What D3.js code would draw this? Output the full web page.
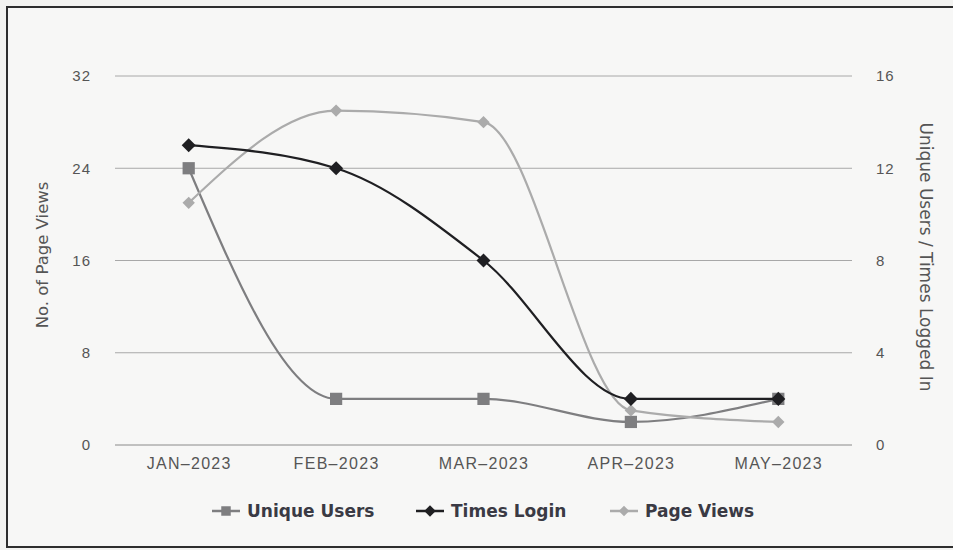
<!DOCTYPE html>
<html>
<head>
<meta charset="utf-8">
<script src="https://cdn.jsdelivr.net/npm/d3@7"></script>
<style>
  body { margin: 0; background: #f2f2f0; }
  svg { display: block; font-family: "DejaVu Sans", sans-serif; }
</style>
</head>
<body>
<svg id="chart" width="953" height="550"></svg>
<script>
// chart data
const months = ["JAN–2023", "FEB–2023", "MAR–2023", "APR–2023", "MAY–2023"];
const uniqueUsers = [12, 2, 2, 1, 2];
const timesLogin = [13, 12, 8, 2, 2];
const pageViews = [21, 29, 28, 3, 2];
const leftTicks = [0, 8, 16, 24, 32];
const rightTicks = [0, 4, 8, 12, 16];

const width = 953, height = 550;
const plot = { left: 115, right: 852, top: 76, bottom: 445 };

let svg = d3.select("#chart");

// scanned-paper frame
svg.append("rect").
attr("x", 0).attr("y", 0).attr("width", width).attr("height", height).
attr("fill", "#f3f3f1");
svg.append("rect").
attr("x", 7).attr("y", 7).attr("width", 960).attr("height", 540).
attr("fill", "#f7f7f6").attr("stroke", "#2e2e2e").attr("stroke-width", 2);

let x = d3.scalePoint().domain(months).range([plot.left, plot.right]).padding(0.5);
let yLeft = d3.scaleLinear().domain([0, 32]).range([plot.bottom, plot.top]);
let yRight = d3.scaleLinear().domain([0, 16]).range([plot.bottom, plot.top]);

// gridlines
svg.append("g").
selectAll("line").
data(leftTicks).
enter().
append("line").
attr("x1", plot.left).
attr("x2", plot.right).
attr("y1", d => yLeft(d)).
attr("y2", d => yLeft(d)).
attr("stroke", d => d === 0 ? "#8a8a8a" : "#a8a8a8").
attr("stroke-width", 1);

// left axis
let leftAxis = d3.axisLeft(yLeft).tickValues(leftTicks).tickSize(0).tickPadding(0);
let gl = svg.append("g").attr("transform", "translate(91,0)").call(leftAxis);
gl.select(".domain").remove();
gl.selectAll("text").attr("fill", "#555").style("font-size", "15px").style("letter-spacing", "1px");

// right axis
let rightAxis = d3.axisRight(yRight).tickValues(rightTicks).tickSize(0).tickPadding(0);
let gr = svg.append("g").attr("transform", "translate(876,0)").call(rightAxis);
gr.select(".domain").remove();
gr.selectAll("text").attr("fill", "#555").style("font-size", "15px").style("letter-spacing", "1px");

// bottom axis
let bottomAxis = d3.axisBottom(x).tickSize(0).tickPadding(0);
let gb = svg.append("g").attr("transform", "translate(0,458)").call(bottomAxis);
gb.select(".domain").remove();
gb.selectAll("text").attr("fill", "#555").style("font-size", "16px").style("letter-spacing", "1.3px");

// axis titles
svg.append("text").
attr("transform", "translate(48,255) rotate(-90)").
attr("text-anchor", "middle").
attr("fill", "#555").
style("font-size", "16.5px").
text("No. of Page Views");
svg.append("text").
attr("transform", "translate(920,257) rotate(90)").
attr("text-anchor", "middle").
attr("fill", "#555").
style("font-size", "17px").
text("Unique Users / Times Logged In");

const series = [
  { name: "Unique Users", values: uniqueUsers, y: yRight, color: "#7e7e80", width: 2.2, marker: "square", size: 150 },
  { name: "Page Views", values: pageViews, y: yLeft, color: "#ababab", width: 2.2, marker: "diamond", size: 70 },
  { name: "Times Login", values: timesLogin, y: yRight, color: "#1f1f22", width: 2.2, marker: "diamond", size: 90 }
];

const symbolFor = s => s.marker === "square"
  ? d3.symbol().type(d3.symbolSquare).size(s.size)
  : d3.symbol().type(d3.symbolDiamond2).size(s.size * 1.4);

series.forEach(s => {
  let line = d3.line().
  x((d, i) => x(months[i])).
  y(d => s.y(d)).
  curve(d3.curveMonotoneX);
  svg.append("path").
  datum(s.values).
  attr("d", line).
  attr("fill", "none").
  attr("stroke", s.color).
  attr("stroke-width", s.width);
  svg.append("g").
  selectAll("path").
  data(s.values).
  enter().
  append("path").
  attr("d", symbolFor(s)).
  attr("transform", (d, i) => `translate(${x(months[i])},${s.y(d)})`).
  attr("fill", s.color);
});

// legend
const legendItems = [
  { name: "Unique Users", color: "#7e7e80", marker: "square", size: 90, x: 212 },
  { name: "Times Login", color: "#1f1f22", marker: "diamond", size: 60, x: 416 },
  { name: "Page Views", color: "#ababab", marker: "diamond", size: 50, x: 610 }
];
let legend = svg.append("g").attr("transform", "translate(0,511)");
legendItems.forEach(item => {
  legend.append("line").
  attr("x1", item.x).attr("x2", item.x + 28).
  attr("y1", 0).attr("y2", 0).
  attr("stroke", item.color).attr("stroke-width", 2.5);
  legend.append("path").
  attr("d", symbolFor(item)).
  attr("transform", `translate(${item.x + 14},0)`).
  attr("fill", item.color);
  legend.append("text").
  attr("x", item.x + 35).
  attr("y", 6).
  attr("fill", "#3a3a44").
  style("font-size", "17px").
  style("font-weight", "bold").
  text(item.name);
});
</script>
</body>
</html>
